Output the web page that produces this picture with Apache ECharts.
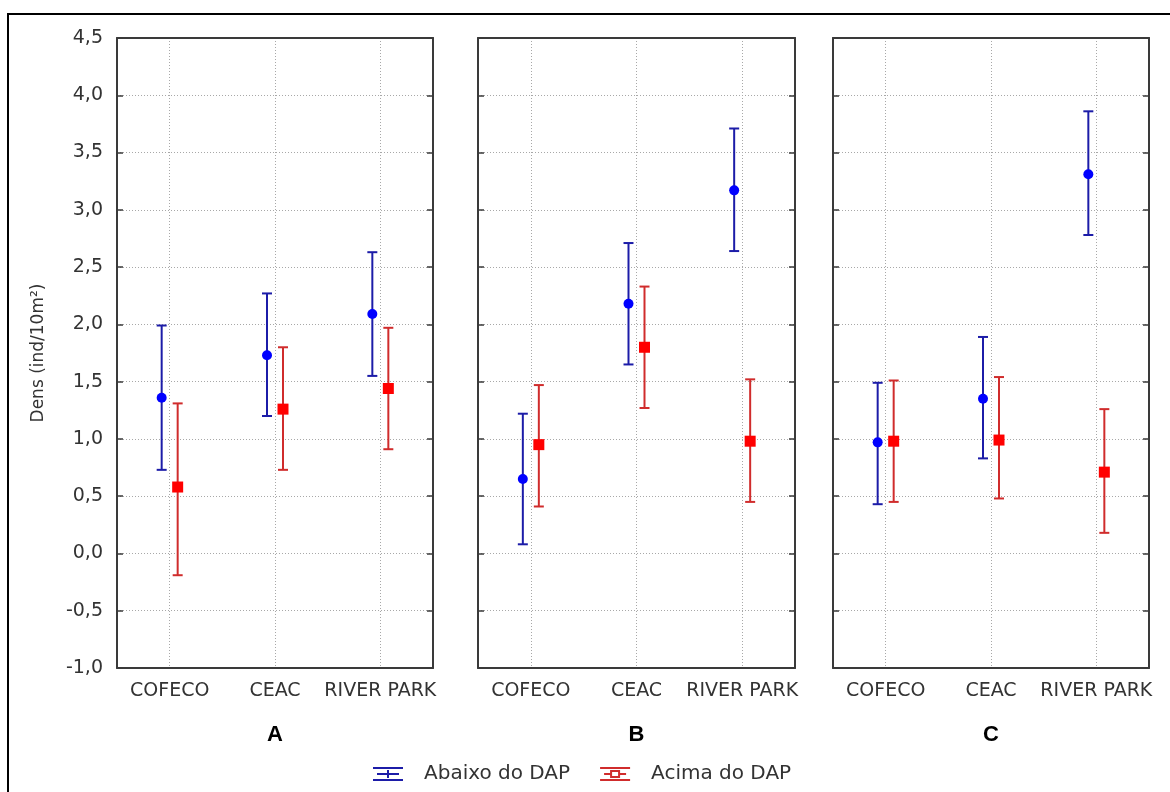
<!DOCTYPE html>
<html>
<head>
<meta charset="utf-8">
<script src="https://cdn.jsdelivr.net/npm/echarts@6/dist/echarts.min.js"></script>
<style>html,body{margin:0;padding:0;background:#fff}#c{width:1170px;height:792px}</style>
</head>
<body>
<div id="c"></div>
<script>
const categories = ['COFECO', 'CEAC', 'RIVER PARK'];
const panelLabels = ['A', 'B', 'C'];
const seriesNames = ['Abaixo do DAP', 'Acima do DAP'];

// Abaixo do DAP (blue): mean, lower, upper per panel
const abaixoMean = [[1.36, 1.73, 2.09], [0.65, 2.18, 3.17], [0.97, 1.35, 3.31]];
const abaixoLow  = [[0.73, 1.20, 1.55], [0.08, 1.65, 2.64], [0.43, 0.83, 2.78]];
const abaixoHigh = [[1.99, 2.27, 2.63], [1.22, 2.71, 3.71], [1.49, 1.89, 3.86]];

// Acima do DAP (red)
const acimaMean = [[0.58, 1.26, 1.44], [0.95, 1.80, 0.98], [0.98, 0.99, 0.71]];
const acimaLow  = [[-0.19, 0.73, 0.91], [0.41, 1.27, 0.45], [0.45, 0.48, 0.18]];
const acimaHigh = [[1.31, 1.80, 1.97], [1.47, 2.33, 1.52], [1.51, 1.54, 1.26]];

const yMin = -1.0, yMax = 4.5, yStep = 0.5;

const chart = echarts.init(document.getElementById('c'));

const gridBoxes = [
  {left: 117, width: 316},
  {left: 478, width: 317},
  {left: 833, width: 316}
];
const axisColor = '#3a3a3a';
const labelColor = '#333';
const gridColor = '#a8a8a8';
const font = 'DejaVu Sans';

const grids = gridBoxes.map(g => ({left: g.left, width: g.width, top: 38, height: 630, outerBoundsMode: 'none', containLabel: false}));

const xAxes = [], yAxes = [];
for (let p = 0; p < 3; p++) {
  xAxes.push({
    type: 'category', gridIndex: p, position: 'bottom', data: categories,
    boundaryGap: true,
    axisLine: {onZero: false, lineStyle: {color: axisColor, width: 2}},
    axisTick: {inside: true, alignWithLabel: true, length: 6, lineStyle: {color: axisColor, width: 1.5}},
    axisLabel: {color: labelColor, fontFamily: font, fontSize: 19, margin: 14, interval: 0},
    splitLine: {show: true, alignWithLabel: true, lineStyle: {color: gridColor, type: [1, 2], width: 1}},
    name: panelLabels[p], nameLocation: 'middle', nameGap: 56,
    nameTextStyle: {color: '#000', fontFamily: 'Liberation Sans', fontWeight: 'bold', fontSize: 22}
  });
  xAxes.push({
    type: 'category', gridIndex: p, position: 'top', data: categories,
    boundaryGap: true,
    axisLine: {onZero: false, lineStyle: {color: axisColor, width: 2}},
    axisTick: {inside: true, alignWithLabel: true, length: 6, lineStyle: {color: axisColor, width: 1.5}},
    axisLabel: {show: false}, splitLine: {show: false}
  });
  yAxes.push({
    type: 'value', gridIndex: p, position: 'left', min: yMin, max: yMax, interval: yStep,
    axisLine: {show: true, onZero: false, lineStyle: {color: axisColor, width: 2}},
    axisTick: {show: true, inside: true, length: 6, lineStyle: {color: axisColor, width: 1.5}},
    axisLabel: {show: p === 0, color: labelColor, fontFamily: font, fontSize: 19, margin: 14,
      formatter: v => v.toFixed(1).replace('.', ',')},
    splitLine: {show: true, lineStyle: {color: gridColor, type: [1, 2], width: 1}},
    name: p === 0 ? 'Dens (ind/10m²)' : '', nameLocation: 'middle', nameGap: 70,
    nameTextStyle: {color: labelColor, fontFamily: font, fontSize: 17}
  });
  yAxes.push({
    type: 'value', gridIndex: p, position: 'right', min: yMin, max: yMax, interval: yStep,
    axisLine: {show: true, onZero: false, lineStyle: {color: axisColor, width: 2}},
    axisTick: {show: true, inside: true, length: 6, lineStyle: {color: axisColor, width: 1.5}},
    axisLabel: {show: false}, splitLine: {show: false}
  });
}

function errorBarSeries(name, p, lows, highs, offset, color) {
  return {
    type: 'custom', name: name, xAxisIndex: 2 * p, yAxisIndex: 2 * p, z: 2,
    itemStyle: {color: color},
    data: lows.map((lo, i) => [i, lo, highs[i]]),
    renderItem: function (params, api) {
      const lo = api.coord([api.value(0), api.value(1)]);
      const hi = api.coord([api.value(0), api.value(2)]);
      const x = lo[0] + offset;
      const cap = 5;
      const st = {stroke: color, lineWidth: 2};
      return {
        type: 'group',
        children: [
          {type: 'line', shape: {x1: x, y1: hi[1], x2: x, y2: lo[1]}, style: st},
          {type: 'line', shape: {x1: x - cap, y1: hi[1], x2: x + cap, y2: hi[1]}, style: st},
          {type: 'line', shape: {x1: x - cap, y1: lo[1], x2: x + cap, y2: lo[1]}, style: st}
        ]
      };
    }
  };
}

function pointSeries(name, p, means, offset, symbol, size, color) {
  return {
    type: 'scatter', name: name, xAxisIndex: 2 * p, yAxisIndex: 2 * p, z: 3,
    symbol: symbol, symbolSize: size, symbolOffset: [offset, 0],
    itemStyle: {color: color, opacity: 1},
    data: means.map((v, i) => [i, v])
  };
}

const series = [];
for (let p = 0; p < 3; p++) {
  series.push(errorBarSeries(seriesNames[0], p, abaixoLow[p], abaixoHigh[p], -8, '#1c1ca8'));
  series.push(errorBarSeries(seriesNames[1], p, acimaLow[p], acimaHigh[p], 8, '#d02c2c'));
  series.push(pointSeries(seriesNames[0], p, abaixoMean[p], -8, 'circle', 10, '#0000ff'));
  series.push(pointSeries(seriesNames[1], p, acimaMean[p], 8, 'rect', 11, '#ff0000'));
}

const blueIcon = 'path://M0,0H30V2H0Z M4,6H26V8H4Z M14,3H16V11H14Z M0,12H30V14H0Z';
const redIcon = 'path://M0,0H30V2H0Z M0,12H30V14H0Z M10,3H20V11H10Z M12,5V9H18V5Z M4,6H10V8H4Z M20,6H26V8H20Z';

chart.setOption({
  animation: false,
  backgroundColor: '#fff',
  grid: grids,
  xAxis: xAxes,
  yAxis: yAxes,
  legend: {
    left: 368, top: 759, itemWidth: 34, itemHeight: 14, itemGap: 30,
    selectedMode: false,
    textStyle: {color: labelColor, fontFamily: font, fontSize: 20, padding: [0, 0, 0, 14]},
    data: [
      {name: seriesNames[0], icon: blueIcon, itemStyle: {color: '#1c1ca8'}},
      {name: seriesNames[1], icon: redIcon, itemStyle: {color: '#d02c2c'}}
    ]
  },
  graphic: [
    {type: 'rect', silent: true, z: -1, shape: {x: 8, y: 14, width: 1200, height: 820},
     style: {fill: 'none', stroke: '#000', lineWidth: 2}}
  ],
  series: series
});
</script>
</body>
</html>
